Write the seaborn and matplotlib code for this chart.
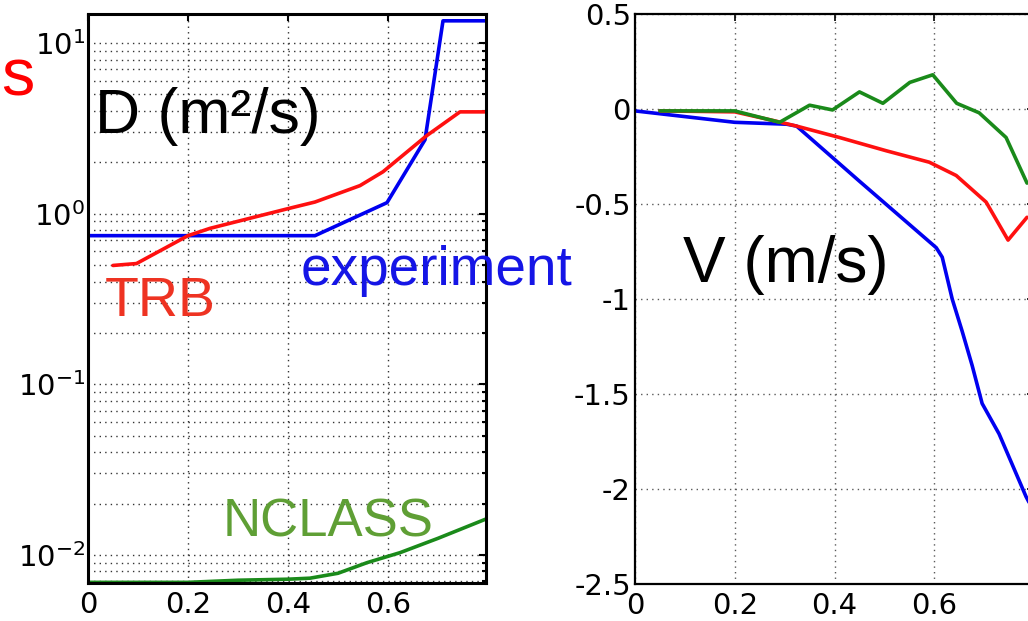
import matplotlib
matplotlib.use("Agg")
import matplotlib.pyplot as plt
import seaborn as sns
import numpy as np

sns.set_theme(style="white")
plt.rcParams['font.family'] = ['Liberation Sans', 'DejaVu Sans']
plt.rcParams['mathtext.fontset'] = 'dejavusans'

# ---------------- data ----------------
# Left panel: diffusivity D (m^2/s), log scale
d_exp_x = [0.0, 0.454, 0.598, 0.674, 0.71, 0.80]
d_exp_y = [0.743, 0.743, 1.16, 2.71, 13.5, 13.5]

d_trb_x = [0.05, 0.097, 0.2, 0.244, 0.4, 0.454, 0.544, 0.59, 0.677, 0.744, 0.80]
d_trb_y = [0.497, 0.51, 0.743, 0.82, 1.07, 1.17, 1.46, 1.76, 2.86, 3.95, 3.95]

d_ncl_x = [0.0, 0.2, 0.3, 0.4, 0.444, 0.5, 0.558, 0.624, 0.70, 0.80]
d_ncl_y = [0.0069, 0.0069, 0.0071, 0.0072, 0.0073, 0.0078, 0.0090, 0.0103, 0.0125, 0.0164]

# Right panel: pinch velocity V (m/s)
v_exp_x = [0.0, 0.2, 0.304, 0.324, 0.45, 0.604, 0.616, 0.636, 0.656, 0.676, 0.696, 0.73, 0.784, 0.80]
v_exp_y = [-0.01, -0.07, -0.08, -0.09, -0.38, -0.73, -0.78, -1.0, -1.17, -1.35, -1.55, -1.71, -2.04, -2.12]

v_trb_x = [0.05, 0.2, 0.276, 0.324, 0.41, 0.504, 0.59, 0.644, 0.704, 0.748, 0.786]
v_trb_y = [-0.01, -0.015, -0.06, -0.09, -0.15, -0.22, -0.28, -0.35, -0.49, -0.69, -0.57]

v_ncl_x = [0.05, 0.2, 0.29, 0.35, 0.396, 0.45, 0.497, 0.551, 0.597, 0.645, 0.69, 0.744, 0.786]
v_ncl_y = [-0.01, -0.01, -0.07, 0.02, -0.005, 0.09, 0.03, 0.14, 0.18, 0.03, -0.02, -0.15, -0.39]

x_ticks = [0, 0.2, 0.4, 0.6]
x_tick_labels = ["0", "0.2", "0.4", "0.6"]
d_ticks = [1e-2, 1e-1, 1e0, 1e1]
d_tick_labels = [r"$10^{-2}$", r"$10^{-1}$", r"$10^{0}$", r"$10^{1}$"]
v_ticks = [0.5, 0, -0.5, -1, -1.5, -2, -2.5]
v_tick_labels = ["0.5", "0", "-0.5", "-1", "-1.5", "-2", "-2.5"]

BLUE = "#0000f0"
RED = "#ff1010"
GREEN = "#1a8a1a"
TICK_FONT = "DejaVu Sans"

W, H = 1028, 621
fig = plt.figure(figsize=(W / 100, H / 100), dpi=100)
fig.patch.set_facecolor("white")

ax1 = fig.add_axes([88 / W, 1 - 583 / H, 398 / W, 569 / H])
ax2 = fig.add_axes([635 / W, 1 - 584 / H, 399 / W, 570 / H])

lw = 2.6
for x, y, c in [(d_exp_x, d_exp_y, BLUE), (d_trb_x, d_trb_y, RED), (d_ncl_x, d_ncl_y, GREEN)]:
    sns.lineplot(x=x, y=y, ax=ax1, color=c, lw=lw, estimator=None, sort=False)
for x, y, c in [(v_exp_x, v_exp_y, BLUE), (v_trb_x, v_trb_y, RED), (v_ncl_x, v_ncl_y, GREEN)]:
    sns.lineplot(x=x, y=y, ax=ax2, color=c, lw=lw, estimator=None, sort=False)

# left axis formatting
ax1.set_yscale("log")
ax1.set_xlim(0, 0.796)
ax1.set_ylim(0.00684, 14.8)
ax1.set_xticks(x_ticks)
ax1.set_xticklabels(x_tick_labels, family=TICK_FONT)
ax1.set_yticks(d_ticks)
ax1.set_yticklabels(d_tick_labels, family=TICK_FONT)
ax1.grid(True, which="major", color="0.2", linestyle=(0, (1, 3)), lw=1.0)
ax1.grid(True, which="minor", axis="y", color="0.2", linestyle=(0, (1, 3)), lw=1.0)
ax1.tick_params(which="both", direction="in", top=True, right=True, length=5, width=1.5,
                labelsize=21, colors="black", pad=6)
ax1.tick_params(which="minor", length=3)
ax1.tick_params(axis="y", which="both", pad=2)
for s in ax1.spines.values():
    s.set_color("black")
    s.set_linewidth(2.2)

# right axis formatting
ax2.set_xlim(0, 0.8)
ax2.set_ylim(-2.5, 0.5)
ax2.set_xticks(x_ticks)
ax2.set_xticklabels(x_tick_labels, family=TICK_FONT)
ax2.set_yticks(v_ticks)
ax2.set_yticklabels(v_tick_labels, family=TICK_FONT)
ax2.grid(True, color="0.35", linestyle=(0, (1, 3)), lw=1.0)
ax2.tick_params(direction="in", top=True, right=True, length=5, width=1.2,
                labelsize=21, colors="black", pad=6)
ax2.tick_params(axis="y", pad=3)
for s in ax2.spines.values():
    s.set_color("black")
    s.set_linewidth(1.6)

for ax in (ax1, ax2):
    ax.set_xlabel("")
    ax.set_ylabel("")

# annotations
ax1.text(0.0176, 0.791, "D (m\u00b2/s)", transform=ax1.transAxes, fontsize=45,
         color="black", ha="left", va="baseline")
ax1.text(0.533, 0.524, "experiment", transform=ax1.transAxes, fontsize=39.5,
         color="#1515e6", ha="left", va="baseline")
ax1.text(0.043, 0.469, "TRB", transform=ax1.transAxes, fontsize=40,
         color="#ee3322", ha="left", va="baseline")
ax1.text(0.337, 0.081, "NCLASS", transform=ax1.transAxes, fontsize=38,
         color="#5f9f35", ha="left", va="baseline")
ax2.text(0.12, 0.53, "V (m/s)", transform=ax2.transAxes, fontsize=46,
         color="black", ha="left", va="baseline")
fig.text(1 / W, 1 - 95 / H, "s", fontsize=48, color="#ff0000", ha="left",
         va="baseline")

fig.savefig("out.png", dpi=100, facecolor="white")
